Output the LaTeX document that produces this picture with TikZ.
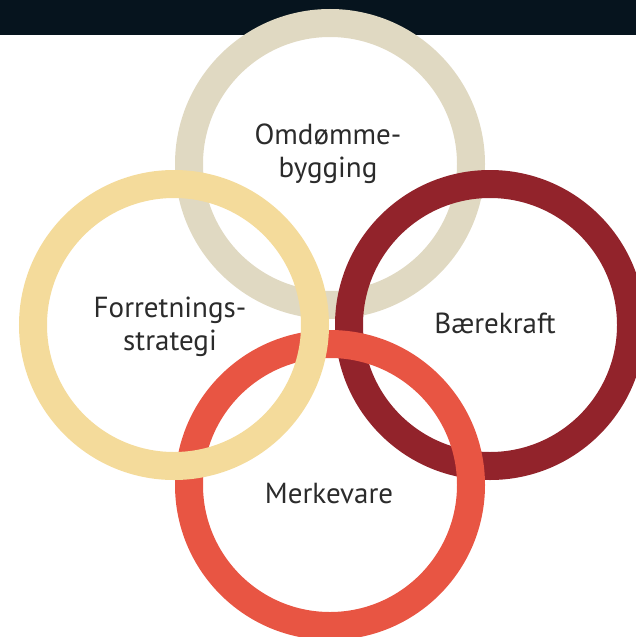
\documentclass[tikz,border=0pt]{standalone}
\usepackage{fontspec}
\setmainfont{PT Sans}
\definecolor{barcol}{HTML}{06141E}
\definecolor{beige}{HTML}{E0D9C2}
\definecolor{sand}{HTML}{F4DB9B}
\definecolor{wine}{HTML}{92232B}
\definecolor{coral}{HTML}{E85543}
\definecolor{txt}{HTML}{2B2B2B}
\begin{document}
\begin{tikzpicture}[x=1pt,y=-1pt,
  ring/.style={circle, draw=#1, line width=28pt, minimum size=282pt, inner sep=0pt, outer sep=0pt},
  lbl/.style={text=txt, font=\fontsize{29}{33}\selectfont, align=center, inner sep=0pt}]
\useasboundingbox (0,0) rectangle (636,637);
\fill[barcol] (0,0) rectangle (636,35);
\node[ring=beige] (top) at (330,164) {};
\node[ring=wine] (right) at (490,325) {};
\node[ring=coral] (bottom) at (330,485) {};
\node[ring=sand] (left) at (174,325) {};
\node[lbl] (ttop) at (328,154) {Omdømme-\\bygging};
\node[lbl] (tleft) at (170,327) {Forretnings-\\strategi};
\node[lbl, anchor=base] (tright) at (495,333) {Bærekraft};
\node[lbl, anchor=base] (tbottom) at (329,503) {Merkevare};
\end{tikzpicture}
\end{document}
